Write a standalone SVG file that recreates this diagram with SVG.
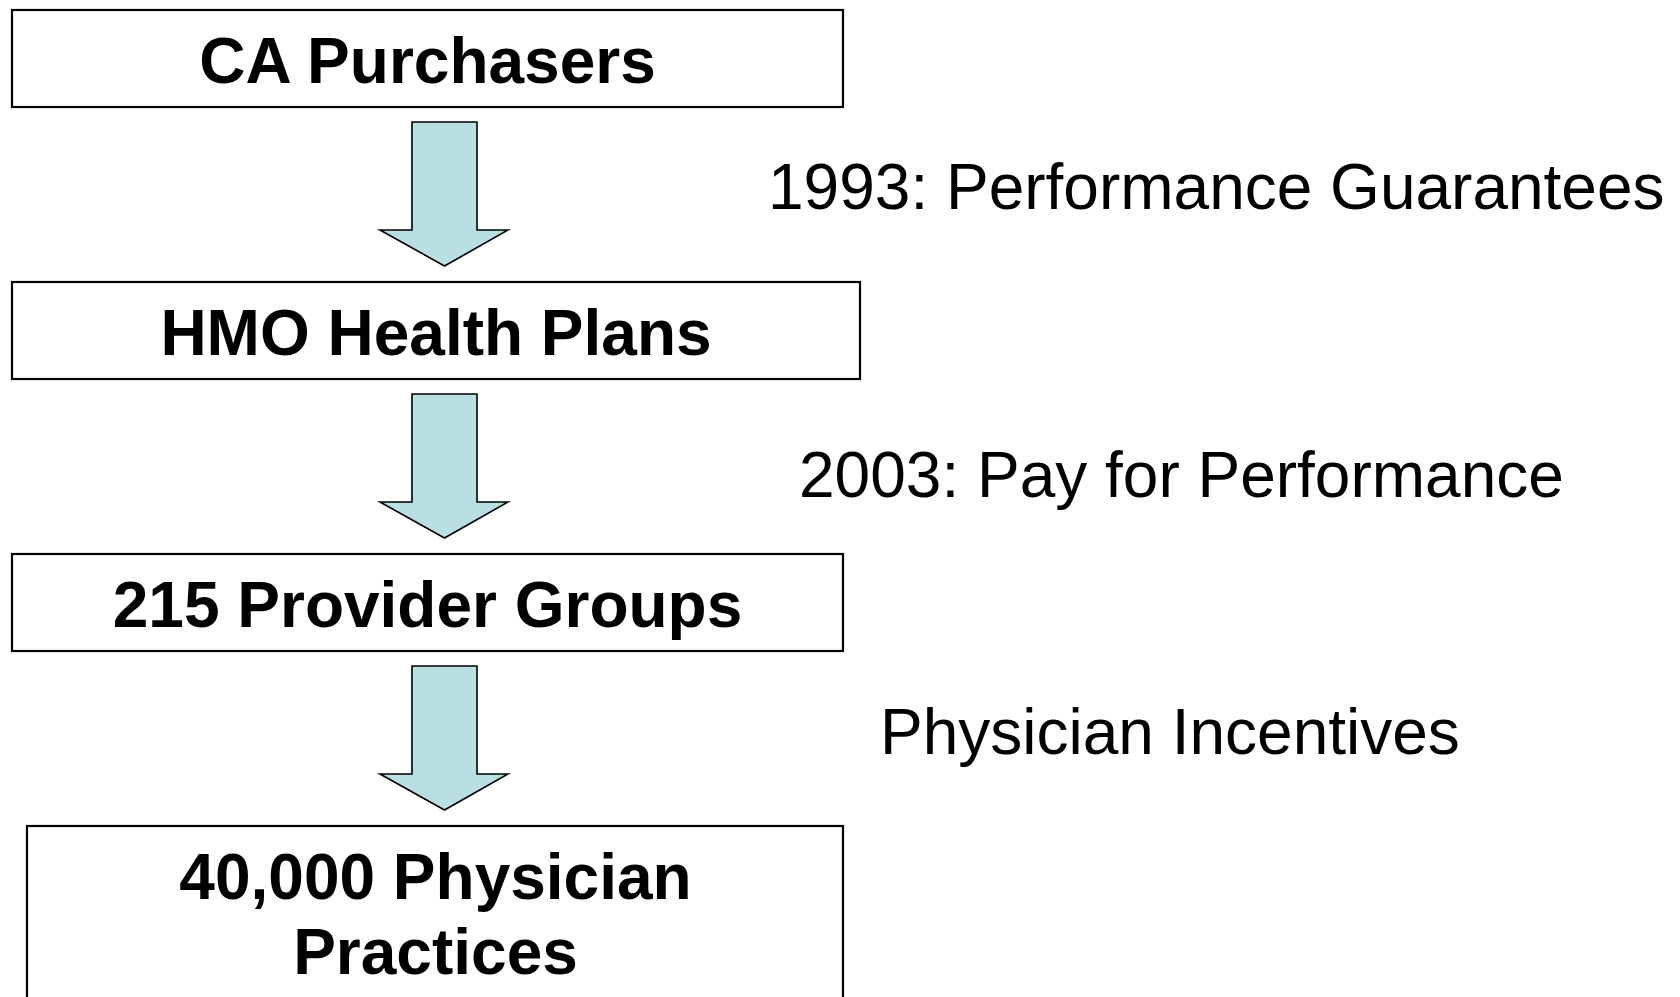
<svg xmlns="http://www.w3.org/2000/svg" width="1680" height="997" viewBox="0 0 1680 997">
  <style>
    .box { fill: #ffffff; stroke: #000000; stroke-width: 2.2; }
    .title { font-family: "Liberation Sans", Arial, sans-serif; font-weight: bold; font-size: 64px; fill: #000000; text-anchor: middle; }
    .label { font-family: "Liberation Sans", Arial, sans-serif; font-size: 64px; fill: #000000; }
    .arrow { fill: #BADFE2; stroke: #000000; stroke-width: 1.6; stroke-linejoin: miter; }
  </style>
  <defs>
    <!-- block arrow pointing down, origin at top-left of the shaft -->
    <path id="down-arrow" d="M0,0 H65 V108 H96 L32.5,144 L-32,108 H0 Z"/>
  </defs>
  <rect width="1680" height="997" fill="#ffffff"/>

  <g id="connectors">
    <use href="#down-arrow" class="arrow" x="412" y="122"/>
    <use href="#down-arrow" class="arrow" x="412" y="394"/>
    <use href="#down-arrow" class="arrow" x="412" y="666"/>
  </g>

  <g id="node-ca-purchasers">
    <rect class="box" x="12" y="10" width="831" height="97"/>
    <text class="title" x="427.5" y="83">CA Purchasers</text>
  </g>

  <g id="node-hmo-health-plans">
    <rect class="box" x="12" y="282" width="848" height="97"/>
    <text class="title" x="436" y="355">HMO Health Plans</text>
  </g>

  <g id="node-provider-groups">
    <rect class="box" x="12" y="554" width="831" height="97"/>
    <text class="title" x="427.5" y="627">215 Provider Groups</text>
  </g>

  <g id="node-physician-practices">
    <rect class="box" x="27" y="826" width="816" height="200"/>
    <text class="title" x="435.5" y="899">40,000 Physician</text>
    <text class="title" x="435.5" y="974">Practices</text>
  </g>

  <g id="labels">
    <text class="label" x="768" y="209">1993: Performance Guarantees</text>
    <text class="label" x="799" y="497">2003: Pay for Performance</text>
    <text class="label" x="880" y="754">Physician Incentives</text>
  </g>
</svg>
